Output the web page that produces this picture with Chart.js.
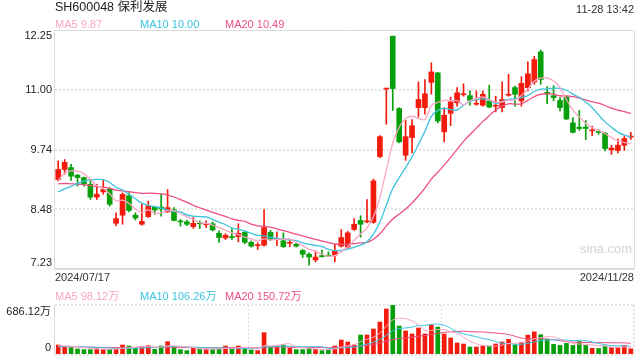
<!DOCTYPE html>
<html><head><meta charset="utf-8">
<script src="https://cdn.jsdelivr.net/npm/chart.js@4.4.1/dist/chart.umd.min.js"></script>
<style>
html,body{margin:0;padding:0;background:#fff;}
#wrap{position:relative;width:640px;height:360px;overflow:hidden;font-family:"Liberation Sans",Arial,"Noto Sans CJK SC",sans-serif;}
.t{position:absolute;white-space:nowrap;line-height:12px;}
canvas{position:absolute;left:0;}
</style></head><body>
<div id="wrap">
<canvas id="main" width="640" height="282" style="top:0px"></canvas>
<canvas id="vol" width="640" height="70" style="top:290px"></canvas>
<div class="t" style="left:55px;top:1px;font-size:12.5px;color:#222">SH600048 保利发展</div>
<div class="t" style="right:6px;top:3px;font-size:11px;color:#333">11-28 13:42</div>
<div class="t" id="lg5" style="left:55px;top:18px;font-size:11px;color:#f9a6c4"></div>
<div class="t" id="lg10" style="left:140px;top:18px;font-size:11px;color:#3cc3df"></div>
<div class="t" id="lg20" style="left:225px;top:18px;font-size:11px;color:#ee4f84"></div>
<div class="t" style="left:55px;top:271px;font-size:11px;color:#333">2024/07/17</div>
<div class="t" style="right:6px;top:271px;font-size:11px;color:#333">2024/11/28</div>
<div class="t" style="left:580px;top:243px;font-size:13px;color:#d2d2d2">sina.com</div>
<div class="t" style="left:55px;top:290px;font-size:11px;color:#f9a6c4">MA5 98.12万</div>
<div class="t" style="left:140px;top:290px;font-size:11px;color:#3cc3df">MA10 106.26万</div>
<div class="t" style="left:225px;top:290px;font-size:11px;color:#ee4f84">MA20 150.72万</div>
</div>
<script>
const dates = ['07/17','07/18','07/19','07/22','07/23','07/24','07/25','07/26','07/29','07/30','07/31',
'08/01','08/02','08/05','08/06','08/07','08/08','08/09','08/12','08/13','08/14','08/15','08/16','08/19','08/20','08/21','08/22','08/23','08/26','08/27','08/28','08/29','08/30',
'09/02','09/03','09/04','09/05','09/06','09/09','09/10','09/11','09/12','09/13','09/18','09/19','09/20','09/23','09/24','09/25','09/26','09/27','09/30',
'10/08','10/09','10/10','10/11','10/14','10/15','10/16','10/17','10/18','10/21','10/22','10/23','10/24','10/25','10/28','10/29','10/30','10/31',
'11/01','11/04','11/05','11/06','11/07','11/08','11/11','11/12','11/13','11/14','11/15','11/18','11/19','11/20','11/21','11/22','11/25','11/26','11/27','11/28'];

const opens  = [9.11,9.32,9.36,9.20,9.15,9.01,8.74,8.85,8.91,8.19, 8.36,8.77,8.36,8.17,8.33,8.53,8.53,8.43,8.47,8.24, 8.22,8.12,8.19,8.16,8.18,7.98,7.88,7.90,7.91,8.00, 7.79,7.72,7.73,8.00,7.85,7.82,7.77,7.75,7.62,7.54, 7.42,7.51,7.52,7.52,7.71,7.69,8.06,8.25,8.22,8.21, 9.59,11.01,12.12,10.60,9.62,9.99,10.62,10.62,11.15,11.35, 10.11,10.50,10.72,10.89,10.87,10.69,10.67,10.76,10.65,10.62, 10.88,11.04,10.76,11.04,11.16,11.79,10.94,10.87,10.77,10.84, 10.30,10.21,10.21,10.13,10.11,10.08,9.73,9.72,9.83,10.00];
const highs  = [9.50,9.53,9.43,9.22,9.16,9.11,9.01,9.11,8.94,8.41, 8.83,8.83,8.41,8.59,8.66,8.55,8.81,8.90,8.52,8.27, 8.25,8.31,8.24,8.24,8.22,8.03,7.97,8.08,8.18,8.03, 7.82,7.78,8.48,8.04,8.01,7.99,7.83,7.77,7.64,7.57, 7.61,7.63,7.59,7.75,8.06,8.02,8.29,8.35,8.69,9.12, 10.03,11.02,12.12,10.62,10.35,10.37,11.16,11.21,11.56,11.36, 10.62,10.84,11.04,11.12,10.97,10.97,10.97,11.09,10.86,11.16, 11.32,11.07,11.27,11.58,11.70,11.83,11.06,11.08,10.83,10.86, 10.41,10.56,10.35,10.23,10.16,10.10,9.83,9.96,10.02,10.10];
const lows   = [9.08,9.22,9.09,8.97,8.97,8.69,8.69,8.80,8.55,8.14, 8.17,8.43,8.26,8.15,8.31,8.38,8.34,8.42,8.24,8.13, 8.14,8.08,8.08,8.10,8.03,7.79,7.85,7.85,7.80,7.76, 7.69,7.64,7.71,7.83,7.72,7.68,7.70,7.69,7.47,7.31, 7.38,7.48,7.49,7.38,7.69,7.67,8.04,7.90,8.20,8.19, 9.57,10.27,10.56,9.88,9.51,9.67,10.42,10.48,10.90,10.30, 9.90,10.24,10.65,10.86,10.67,10.67,10.65,10.62,10.53,10.53, 10.86,10.65,10.65,10.97,11.11,11.11,10.70,10.76,10.55,10.37, 10.09,10.14,9.95,10.03,10.06,9.71,9.64,9.67,9.72,9.95];
const closes = [9.32,9.47,9.18,9.15,9.02,8.74,8.80,8.90,8.59,8.29, 8.80,8.46,8.30,8.23,8.56,8.47,8.49,8.52,8.25,8.22, 8.17,8.19,8.18,8.18,8.05,7.89,7.94,7.89,7.98,7.79, 7.71,7.73,8.10,7.86,7.87,7.70,7.79,7.71,7.54,7.48, 7.48,7.49,7.50,7.61,7.89,7.99,8.17,8.17,8.24,9.08, 10.01,11.02,11.02,9.90,10.01,10.24,10.79,10.91,11.37,10.34, 10.46,10.74,10.93,10.91,10.77,10.71,10.90,10.63,10.66,10.79, 10.90,10.90,11.13,11.33,11.63,11.21,10.91,10.83,10.62,10.38, 10.10,10.18,10.18,10.14,10.10,9.76,9.77,9.83,9.97,10.01];
// closes before the visible window (estimated from where the MA lines start)
const preCloses = [9.35,9.30,9.28,9.25,9.20,9.15,9.12,9.10,9.08,9.07,8.85,8.65,8.55,8.50,8.50,8.70,8.95,9.18,9.30];

// volume, 万股
const volumes = [126,103,89,70,61,61,75,65,65,70, 126,112,89,103,117,65,112,173,103,61, 47,79,70,70,65,70,112,79,112,70, 56,47,299,98,112,126,84,61,61,75, 65,47,56,112,196,168,126,266,266,350, 448,630,686.12,392,322,280,364,280,406,378, 280,224,154,140,98,98,112,112,140,168, 205,126,160,265,310,270,210,135,120,150, 120,175,120,80,78,112,90,95,120,73];
const preVolumes = [90,85,100,95,80,105,92,88,110,96,84,90,78,100,95,120,115,110,115];

const priceTicks = [12.25, 11.00, 9.74, 8.48, 7.23];
const volTicks = [686.12, 0];
const volTickLabels = ['686.12万', '0'];

const UP = '#f31c0c', DOWN = '#08a00a';
const C5 = '#f9a6c4', C10 = '#3cc3df', C20 = '#ee4f84';

function movingAvg(pre, vals, n){
  const all = pre.concat(vals);
  return vals.map((_, i) => { const end = pre.length + i; let s = 0; for (let k = end - n + 1; k <= end; k++) s += all[k]; return s / n; });
}
const ma5 = movingAvg(preCloses, closes, 5), ma10 = movingAvg(preCloses, closes, 10), ma20 = movingAvg(preCloses, closes, 20);
const vma5 = movingAvg(preVolumes, volumes, 5), vma10 = movingAvg(preVolumes, volumes, 10), vma20 = movingAvg(preVolumes, volumes, 20);
document.getElementById('lg5').textContent = 'MA5 ' + ma5[ma5.length-1].toFixed(2);
document.getElementById('lg10').textContent = 'MA10 ' + ma10[ma10.length-1].toFixed(2);
document.getElementById('lg20').textContent = 'MA20 ' + ma20[ma20.length-1].toFixed(2);

const colors = closes.map((c, i) => c >= opens[i] ? UP : DOWN);

function hline(ctx, x1, x2, y){ ctx.beginPath(); ctx.moveTo(x1, y); ctx.lineTo(x2, y); ctx.stroke(); }
function vline(ctx, x, y1, y2){ ctx.beginPath(); ctx.moveTo(x, y1); ctx.lineTo(x, y2); ctx.stroke(); }

const mainFrame = {
  id: 'mainFrame',
  beforeDatasetsDraw(chart){
    const {ctx, chartArea: a, scales: {y}} = chart;
    ctx.save();
    ctx.strokeStyle = '#e4e4e4'; ctx.lineWidth = 2; ctx.setLineDash([2, 2]);
    priceTicks.forEach((v, i) => { if (i === 0 || i === priceTicks.length - 1) return; hline(ctx, a.left, a.right, Math.round(y.getPixelForValue(v))); });
    ctx.setLineDash([]); ctx.strokeStyle = '#dcdcdc'; ctx.lineWidth = 1;
    hline(ctx, a.left, a.right, Math.round(a.top) + 0.5);
    vline(ctx, Math.round(a.left) - 0.5, a.top, a.bottom);
    vline(ctx, Math.round(a.right) + 0.5, a.top, a.bottom);
    ctx.lineWidth = 2; hline(ctx, a.left - 1, a.right + 1, Math.round(a.bottom));
    ctx.restore();
  },
  afterDraw(chart){
    const {ctx, chartArea: a, scales: {y}} = chart;
    ctx.save();
    ctx.font = '11px "Liberation Sans", Arial, sans-serif'; ctx.fillStyle = '#222';
    ctx.textAlign = 'right'; ctx.textBaseline = 'middle';
    priceTicks.forEach(v => {
      let py = y.getPixelForValue(v);
      py = Math.min(Math.max(py, a.top + 6), a.bottom - 6);
      ctx.fillText(v.toFixed(2), a.left - 3, py);
    });
    ctx.restore();
  }
};

const volFrame = {
  id: 'volFrame',
  beforeDatasetsDraw(chart){
    const {ctx, chartArea: a} = chart;
    ctx.save();
    ctx.strokeStyle = '#dcdcdc'; ctx.lineWidth = 1.5; ctx.setLineDash([2, 2]);
    hline(ctx, a.left, a.right, Math.round(a.top));
    hline(ctx, a.left, a.right, Math.round(a.bottom) + 1);
    vline(ctx, Math.round(a.right), a.top, a.bottom);
    ctx.lineWidth = 1;
    [1, 2].forEach(k => vline(ctx, Math.round(a.left + (a.right - a.left) * k / 3) + 0.5, a.top, a.bottom));
    ctx.setLineDash([]);
    vline(ctx, Math.round(a.left) - 0.5, a.top, a.bottom + 1);
    ctx.restore();
  },
  afterDraw(chart){
    const {ctx, chartArea: a, scales: {y}} = chart;
    ctx.save();
    ctx.font = '11px "Liberation Sans", Arial, "Noto Sans CJK SC", sans-serif'; ctx.fillStyle = '#222';
    ctx.textAlign = 'right'; ctx.textBaseline = 'middle';
    volTicks.forEach((v, i) => {
      let py = y.getPixelForValue(v);
      py = Math.min(Math.max(py, a.top + 7), a.bottom - 6);
      ctx.fillText(volTickLabels[i], a.left - 4, py);
    });
    ctx.restore();
  }
};

const lineDs = (label, data, color, w) => ({type: 'line', label, data, borderColor: color, borderWidth: w, pointRadius: 0, tension: 0.35, fill: false, order: 0});

new Chart(document.getElementById('main'), {
  data: {
    labels: dates,
    datasets: [
      {type: 'bar', label: 'wick', data: highs.map((h, i) => [lows[i], h]), backgroundColor: colors, barThickness: 1, grouped: false, borderWidth: 0, order: 2},
      {type: 'bar', label: 'body', data: opens.map((o, i) => [Math.min(o, closes[i]), Math.max(o, closes[i])]), backgroundColor: colors, barThickness: 5, minBarLength: 1, grouped: false, borderWidth: 0, order: 1},
      lineDs('MA5', ma5, C5, 1.3),
      lineDs('MA10', ma10, C10, 1.3),
      lineDs('MA20', ma20, C20, 1.3)
    ]
  },
  options: {
    responsive: false, animation: false, devicePixelRatio: 1,
    layout: {padding: {left: 55, right: 6, top: 30, bottom: 13}},
    scales: {
      x: {type: 'category', display: false, offset: true},
      y: {display: false, min: 7.23, max: 12.25}
    },
    plugins: {legend: {display: false}, tooltip: {enabled: false}}
  },
  plugins: [mainFrame]
});

new Chart(document.getElementById('vol'), {
  data: {
    labels: dates,
    datasets: [
      {type: 'bar', label: 'volume', data: volumes, backgroundColor: colors, barThickness: 4, borderWidth: 0, order: 1},
      lineDs('VMA5', vma5, C5, 1),
      lineDs('VMA10', vma10, C10, 1),
      lineDs('VMA20', vma20, C20, 1)
    ]
  },
  options: {
    responsive: false, animation: false, devicePixelRatio: 1,
    layout: {padding: {left: 55, right: 6, top: 15, bottom: 6}},
    scales: {
      x: {type: 'category', display: false, offset: true},
      y: {display: false, min: 0, max: 686.12}
    },
    plugins: {legend: {display: false}, tooltip: {enabled: false}}
  },
  plugins: [volFrame]
});
</script>
</body></html>
